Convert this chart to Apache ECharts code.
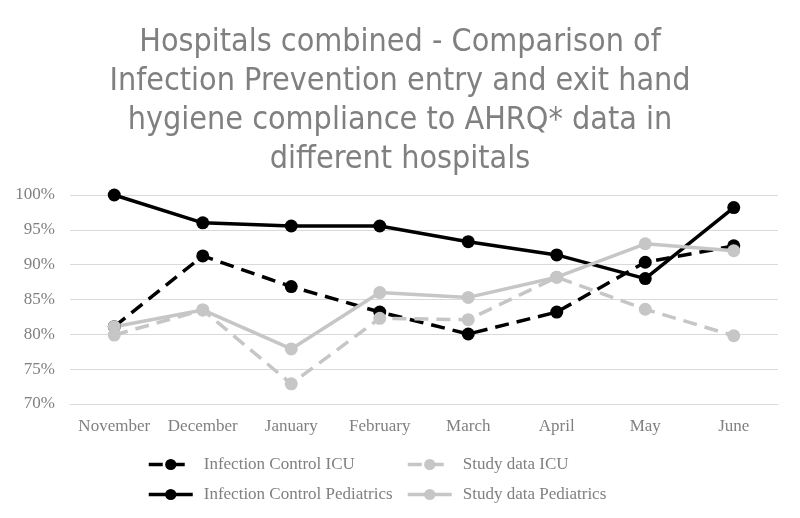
<!DOCTYPE html>
<html><head><meta charset="utf-8">
<script src="https://cdn.jsdelivr.net/npm/echarts@6/dist/echarts.min.js"></script>
<style>html,body{margin:0;padding:0;background:#fff}#c{width:800px;height:518px}</style>
</head><body><div id="c"></div>
<script>
const months = ['November','December','January','February','March','April','May','June'];
const icICU = [81.1, 91.25, 86.85, 83.2, 80.05, 83.2, 90.35, 92.7];
const studyICU = [79.9, 83.5, 72.9, 82.3, 82.1, 88.2, 83.6, 79.8];
const icPeds = [100, 96.0, 95.55, 95.55, 93.3, 91.4, 88.0, 98.2];
const studyPeds = [81.1, 83.5, 77.9, 86.0, 85.3, 88.2, 93.0, 92.0];
const titleLines = ['Hospitals combined - Comparison of','Infection Prevention entry and exit hand','hygiene compliance to AHRQ* data in','different hospitals'];

const BLACK = '#000000', GREY = '#c6c6c6', TXT = '#808080';
const serif = '"Liberation Serif","DejaVu Serif",serif';
function mk(name, data, color, dashed) {
  return {
    name, type: 'line', data,
    symbol: 'circle', symbolSize: 13,
    itemStyle: { color },
    lineStyle: { color, width: 3.5, type: dashed ? [14, 8] : 'solid' },
    emphasis: { disabled: true }, animation: false
  };
}
const legendBase = {
  orient: 'vertical', top: 451, itemWidth: 44, itemHeight: 14, itemGap: 13,
  lineStyle: { width: 3.5 },
  textStyle: { color: TXT, fontFamily: serif, fontSize: 17, padding: [0,0,0,6] }
};
const chart = echarts.init(document.getElementById('c'));
chart.setOption({
  animation: false,
  title: {
    text: titleLines.join('\n'), left: 'center', top: 18,
    textStyle: { fontFamily: '"Liberation Sans Narrow","DejaVu Sans Condensed",sans-serif', fontSize: 32, fontWeight: 'normal', color: TXT, lineHeight: 39 }
  },
  grid: { left: 70, right: 22, top: 195, bottom: 114 },
  xAxis: {
    type: 'category', data: months, boundaryGap: true,
    axisTick: { show: false },
    axisLine: { lineStyle: { color: '#d9d9d9', width: 1 } },
    axisLabel: { color: TXT, fontFamily: serif, fontSize: 17, margin: 14, interval: 0 }
  },
  yAxis: {
    type: 'value', min: 70, max: 100, interval: 5,
    axisLabel: { formatter: '{value}%', color: TXT, fontFamily: serif, fontSize: 17, margin: 15 },
    splitLine: { lineStyle: { color: '#d9d9d9', width: 1 } },
    axisLine: { show: false }, axisTick: { show: false }
  },
  legend: [
    Object.assign({}, legendBase, { left: 142, data: ['Infection Control ICU', 'Infection Control Pediatrics'] }),
    Object.assign({}, legendBase, { left: 401, data: ['Study data ICU', 'Study data Pediatrics'] })
  ],
  series: [
    mk('Infection Control ICU', icICU, BLACK, true),
    mk('Study data ICU', studyICU, GREY, true),
    mk('Infection Control Pediatrics', icPeds, BLACK, false),
    mk('Study data Pediatrics', studyPeds, GREY, false)
  ]
});
</script></body></html>
